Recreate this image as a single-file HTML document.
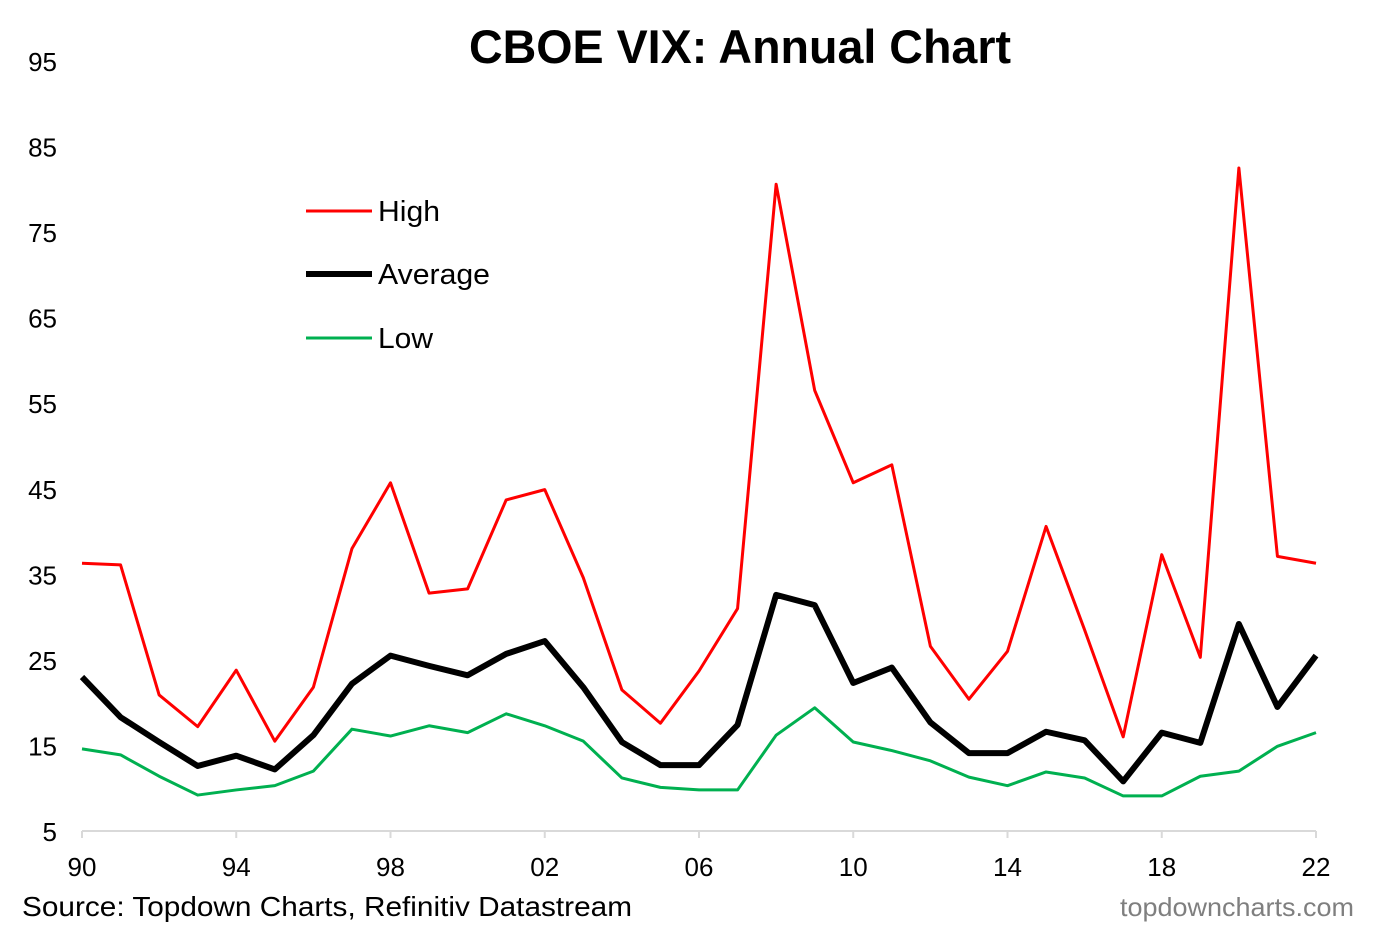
<!DOCTYPE html>
<html><head><meta charset="utf-8"><style>
body{margin:0;background:#fff;}
svg text{font-family:"Liberation Sans",Arial,sans-serif;}
</style></head><body>
<svg id="chart" width="1373" height="942" xmlns="http://www.w3.org/2000/svg">
<text x="740" y="63" text-anchor="middle" font-size="47" font-weight="bold" textLength="542" lengthAdjust="spacingAndGlyphs">CBOE VIX: Annual Chart</text>
<g id="yaxis"></g>
<g id="xaxis"></g>
<g id="series"></g>
<g>
<g><line x1="306" y1="211" x2="372" y2="211" stroke="#ff0000" stroke-width="3"/><text x="378" y="221" font-size="29" textLength="62" lengthAdjust="spacingAndGlyphs">High</text></g>
<g><line x1="306" y1="274" x2="372" y2="274" stroke="#000" stroke-width="6"/><text x="378" y="284" font-size="29" textLength="112" lengthAdjust="spacingAndGlyphs">Average</text></g>
<g><line x1="306" y1="338" x2="372" y2="338" stroke="#00b050" stroke-width="3"/><text x="378" y="348" font-size="29" textLength="55" lengthAdjust="spacingAndGlyphs">Low</text></g>
</g>
<text x="22" y="916" font-size="28" textLength="610" lengthAdjust="spacingAndGlyphs">Source: Topdown Charts, Refinitiv Datastream</text>
<text x="1120" y="916" font-size="26" fill="#7f7f7f" textLength="234" lengthAdjust="spacingAndGlyphs">topdowncharts.com</text>
</svg>
<script>
const years=[1990,1991,1992,1993,1994,1995,1996,1997,1998,1999,2000,2001,2002,2003,2004,2005,2006,2007,2008,2009,2010,2011,2012,2013,2014,2015,2016,2017,2018,2019,2020,2021,2022];
const highValues=[36.3,36.1,20.9,17.2,23.8,15.5,21.8,38,45.7,32.8,33.3,43.7,44.9,34.6,21.5,17.6,23.7,31,80.6,56.5,45.7,47.8,26.6,20.4,26,40.6,28.5,16,37.3,25.3,82.5,37.1,36.3];
const avgValues=[23,18.3,15.4,12.6,13.8,12.2,16.2,22.2,25.5,24.3,23.2,25.7,27.2,21.8,15.4,12.7,12.7,17.4,32.6,31.4,22.3,24.1,17.7,14.1,14.1,16.6,15.6,10.8,16.5,15.3,29.2,19.5,25.5];
const lowValues=[14.6,13.9,11.4,9.2,9.8,10.3,12,16.9,16.1,17.3,16.5,18.7,17.3,15.5,11.2,10.1,9.8,9.8,16.2,19.4,15.4,14.4,13.2,11.3,10.3,11.9,11.2,9.1,9.1,11.4,12,14.9,16.5];
const yTicks=[5,15,25,35,45,55,65,75,85,95];
const xTicks=[1990,1994,1998,2002,2006,2010,2014,2018,2022];
const NS="http://www.w3.org/2000/svg";
const X=y=>82+(y-1990)*(1234/32);
const Y=v=>831-(v-5)*(770/90);
function mk(tag,attrs,parent){const e=document.createElementNS(NS,tag);for(const k in attrs)e.setAttribute(k,attrs[k]);parent.appendChild(e);return e;}
const ya=document.getElementById('yaxis'),xa=document.getElementById('xaxis'),sg=document.getElementById('series');
yTicks.forEach(t=>{const e=mk('text',{x:57,y:Y(t)+10,'text-anchor':'end','font-size':26},ya);e.textContent=t;

});
const ax=mk('line',{x1:82,y1:831,x2:1316,y2:831,stroke:'#d9d9d9','stroke-width':2},xa);


xTicks.forEach(t=>{const l=mk('line',{x1:X(t),y1:831,x2:X(t),y2:838,stroke:'#d9d9d9','stroke-width':2},xa);


const e=mk('text',{x:X(t),y:876,'text-anchor':'middle','font-size':26},xa);e.textContent=String(t%100).padStart(2,'0');

});
function line(vals,color,w,name){const p=mk('polyline',{points:vals.map((v,i)=>X(years[i])+','+Y(v)).join(' '),fill:'none',stroke:color,'stroke-width':w,'stroke-linejoin':'round'},sg);

}
line(lowValues,'#00b050',3,'low-line');
line(highValues,'#ff0000',3,'high-line');
line(avgValues,'#000',6,'average-line');
</script>
</body></html>
